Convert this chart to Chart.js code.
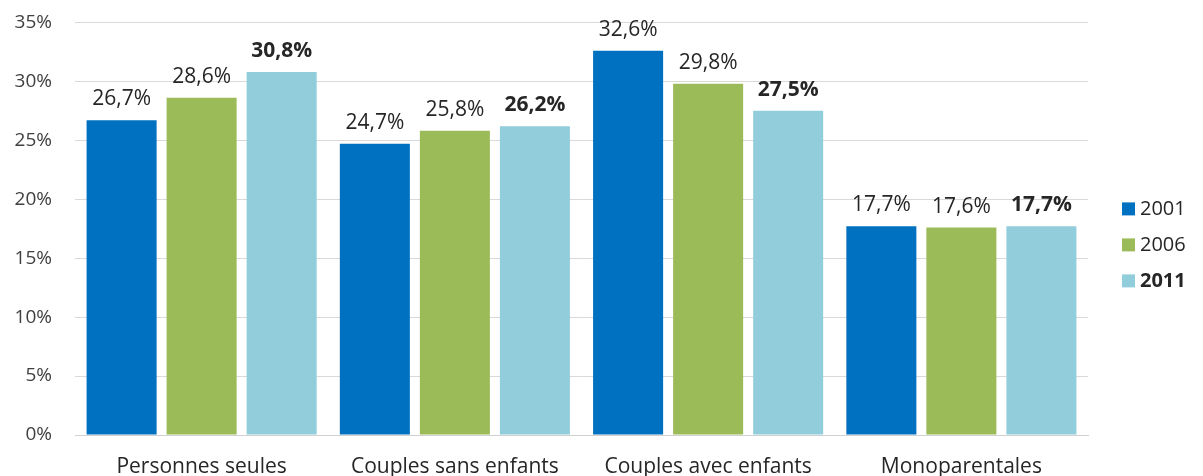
<!DOCTYPE html>
<html>
<head>
<meta charset="utf-8">
<script src="https://cdn.jsdelivr.net/npm/chart.js@4/dist/chart.umd.min.js"></script>
<style>
  html, body { margin: 0; padding: 0; background: #ffffff; overflow: hidden; }
  #wrap { width: 1203px; height: 476px; overflow: hidden; }
  #box { width: 1203px; height: 527px; margin-top: -12px; }
</style>
</head>
<body>
<div id="wrap"><div id="box"><canvas id="chart"></canvas></div></div>
<script>
// Household types, share of households (%)
const categories = ['Personnes seules', 'Couples sans enfants', 'Couples avec enfants', 'Monoparentales'];
const years = ['2001', '2006', '2011'];
const values2001 = [26.7, 24.7, 32.6, 17.7];
const values2006 = [28.6, 25.8, 29.8, 17.6];
const values2011 = [30.8, 26.2, 27.5, 17.7];
const yTicks = [0, 5, 10, 15, 20, 25, 30, 35];

const colors = ['#0070C0', '#9BBB59', '#92CDDC'];
const boldYear = '2011';
const FONT = '"Open Sans", "DejaVu Sans", sans-serif';

const fmt = v => v.toFixed(1).replace('.', ',') + '%';

// Value labels drawn above every bar
const valueLabels = {
  id: 'valueLabels',
  afterDatasetsDraw(chart) {
    const ctx = chart.ctx;
    ctx.save();
    ctx.textAlign = 'center';
    ctx.textBaseline = 'alphabetic';
    ctx.fillStyle = '#262626';
    chart.data.datasets.forEach((ds, i) => {
      const meta = chart.getDatasetMeta(i);
      ctx.font = (ds.label === boldYear ? 'bold ' : '') + '21px ' + FONT;
      meta.data.forEach((bar, j) => {
        ctx.fillText(fmt(ds.data[j]), bar.x, bar.y - 15);
      });
    });
    ctx.restore();
  }
};

// Legend on the right side, one row per year
const sideLegend = {
  id: 'sideLegend',
  afterDraw(chart) {
    const ctx = chart.ctx;
    const x0 = chart.chartArea.right + 34;
    const top = chart.chartArea.top;
    const rowY = [top + 186, top + 222, top + 258];
    ctx.save();
    ctx.textBaseline = 'middle';
    ctx.textAlign = 'left';
    chart.data.datasets.forEach((ds, i) => {
      const y = rowY[i];
      ctx.fillStyle = ds.backgroundColor;
      ctx.fillRect(x0, y - 6, 13, 13);
      ctx.fillStyle = '#262626';
      ctx.font = (ds.label === boldYear ? 'bold ' : '') + '20px ' + FONT;
      ctx.fillText(ds.label, x0 + 18, y + 1);
    });
    ctx.restore();
  }
};

new Chart(document.getElementById('chart'), {
  type: 'bar',
  data: {
    labels: categories,
    datasets: [
      { label: years[0], data: values2001, backgroundColor: colors[0] },
      { label: years[1], data: values2006, backgroundColor: colors[1] },
      { label: years[2], data: values2011, backgroundColor: colors[2] }
    ]
  },
  options: {
    responsive: true,
    maintainAspectRatio: false,
    animation: false,
    devicePixelRatio: 1,
    categoryPercentage: 0.948,
    barPercentage: 0.875,
    layout: { padding: { top: 11, right: 115, bottom: 10, left: 0 } },
    plugins: {
      legend: { display: false },
      tooltip: { enabled: false }
    },
    scales: {
      x: {
        afterFit(scale) { scale.height = 70; },
        grid: { display: false, drawTicks: false },
        border: { display: true, color: '#d0d0d0', width: 1 },
        ticks: { color: '#262626', font: { family: FONT, size: 21 }, padding: 19, maxRotation: 0 }
      },
      y: {
        min: 0,
        max: 35,
        afterBuildTicks(scale) { scale.ticks = yTicks.map(v => ({ value: v })); },
        afterFit(scale) { scale.width = 75; },
        grid: { color: '#d9d9d9', lineWidth: 1, drawTicks: false },
        border: { display: false },
        ticks: {
          color: '#404040',
          font: { family: FONT, size: 19 },
          padding: 23,
          callback: v => v + '%'
        }
      }
    }
  },
  plugins: [valueLabels, sideLegend]
});
</script>
</body>
</html>
